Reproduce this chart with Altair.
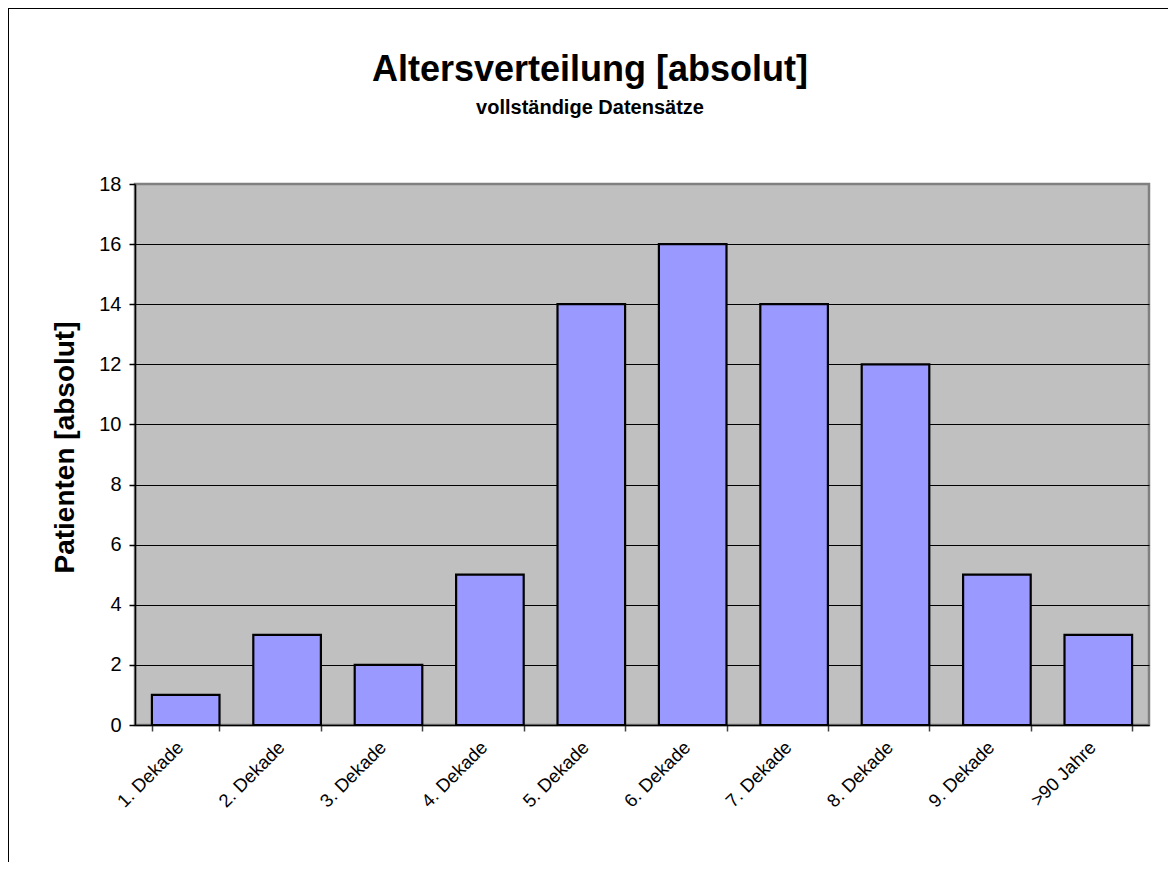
import altair as alt
import pandas as pd

categories = ["1. Dekade", "2. Dekade", "3. Dekade", "4. Dekade", "5. Dekade",
              "6. Dekade", "7. Dekade", "8. Dekade", "9. Dekade", ">90 Jahre"]
patients = [1, 3, 2, 5, 14, 16, 14, 12, 5, 3]
y_ticks = [0, 2, 4, 6, 8, 10, 12, 14, 16, 18]
title_text = ["Altersverteilung [absolut]"]
subtitle_text = ["vollständige Datensätze"]

df = pd.DataFrame({"kat": categories, "n": patients})

W, H = 1014, 541
FONT = "Liberation Sans"

base = alt.Chart(df)

bars = base.mark_bar(color="#9999FF", stroke="black", strokeWidth=2.2).encode(
    x=alt.X("kat:N", sort=categories,
            scale=alt.Scale(paddingInner=1/3, paddingOuter=1/6),
            axis=alt.Axis(title=None, labelAngle=-45, labelAlign="right",
                          labelBaseline="middle", labelFontSize=18.5, labelFont=FONT,
                          labelColor="black", labelPadding=13, labelOffset=-6,
                          tickBand="extent",
                          tickSize=6, tickColor="#404040", tickWidth=1.5,
                          domainColor="black", domainWidth=1.5, grid=False)),
    y=alt.Y("n:Q", scale=alt.Scale(domain=[0, 18], nice=False),
            axis=alt.Axis(title="Patienten [absolut]", values=y_ticks,
                          titleFont=FONT, titleFontSize=28, titleFontWeight="bold",
                          titleColor="black", titlePadding=19, titleY=263,
                          labelFont=FONT, labelFontSize=20, labelColor="black",
                          labelPadding=8, tickSize=6, tickColor="black", tickWidth=1.5,
                          domainColor="black", domainWidth=1.5,
                          grid=True, gridWidth=1,
                          gridColor=alt.condition("datum.value == 18",
                                                  alt.value("#808080"),
                                                  alt.value("black")))),
)

frame = base.mark_rect(fill=None, stroke="black", strokeWidth=2).encode(
    x=alt.value(-127), x2=alt.value(1100), y=alt.value(-176), y2=alt.value(720)
)

title = alt.Chart(pd.DataFrame({"t": title_text})).mark_text(
    font=FONT, fontSize=36, fontWeight="bold", color="black",
    align="center", baseline="alphabetic"
).encode(text="t:N", x=alt.value(455), y=alt.value(-103))

subtitle = alt.Chart(pd.DataFrame({"t": subtitle_text})).mark_text(
    font=FONT, fontSize=20, fontWeight="bold", color="black",
    align="center", baseline="alphabetic"
).encode(text="t:N", x=alt.value(455), y=alt.value(-70))

chart = alt.layer(bars, frame, title, subtitle).properties(
    width=W, height=H,
    background="white",
    padding={"left": 127, "top": 176, "right": 19, "bottom": 137},
    autosize=alt.AutoSizeParams(type="none"),
).configure_view(
    fill="#C0C0C0", stroke="#808080", strokeWidth=2.5
)

chart.save("out.html", embed_options={"renderer": "svg", "actions": False})
